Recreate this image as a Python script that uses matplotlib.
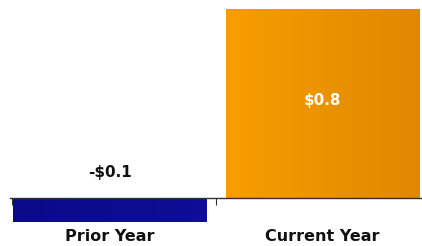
import matplotlib
matplotlib.use("Agg")
import matplotlib.pyplot as plt
import numpy as np

categories = ["Prior Year", "Current Year"]
values = [-0.1, 0.8]
labels = ["-$0.1", "$0.8"]
colors_left = ["#0a0a88", "#f79d00"]
colors_right = ["#0e0e96", "#e08800"]

plt.rcParams['font.family'] = ['DejaVu Sans']

fig = plt.figure(figsize=(4.22, 2.46), dpi=100)
ax = fig.add_axes([10 / 422, 0, 412 / 422, 1])

x = list(range(len(categories)))
bars = ax.bar(x, values, width=0.91, color=colors_left, zorder=2)

# soft horizontal gradient on each bar
for b, c1, c2 in zip(bars, colors_left, colors_right):
    cmap = matplotlib.colors.LinearSegmentedColormap.from_list("g", [c1, c2])
    x0, y0 = b.get_x(), b.get_y()
    w, h = b.get_width(), b.get_height()
    im = ax.imshow(np.linspace(0, 1, 64).reshape(1, -1), cmap=cmap,
                   extent=[x0, x0 + w, y0, y0 + h], aspect="auto", zorder=2.5)
    im.set_clip_path(b)

ax.set_xlim(-0.47, 1.47)
ax.set_ylim(-0.203, 0.839)

for s in ["top", "right", "left"]:
    ax.spines[s].set_visible(False)
ax.spines["bottom"].set_position(("data", 0))
ax.spines["bottom"].set_color("#333333")
ax.spines["bottom"].set_linewidth(1.0)
ax.spines["bottom"].set_zorder(3)
ax.set_yticks([])
ax.set_xticks([-0.46, 0.5])
ax.set_xticklabels([])
ax.tick_params(axis="x", direction="out", length=5, color="#333333")

# value labels
ax.text(0, 0.11, labels[0], ha="center", va="center", fontsize=11,
        fontweight="bold", color="#111111", zorder=4)
ax.text(1, 0.415, labels[1], ha="center", va="center", fontsize=11,
        fontweight="bold", color="white", zorder=4)

# category names
for xi, name in zip(x, categories):
    ax.text(xi, -0.163, name, ha="center", va="center", fontsize=11.5,
            fontweight="bold", color="#111111")

fig.savefig("out.png", dpi=100)
